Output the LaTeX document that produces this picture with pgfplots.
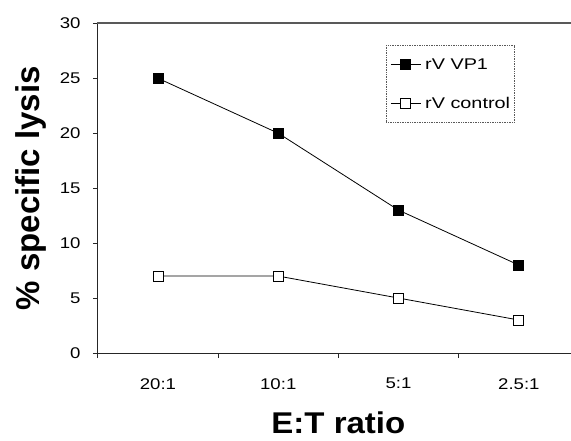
\documentclass[border=0pt]{standalone}
\usepackage{fontspec}
\setmainfont{Liberation Sans}
\usepackage{pgfplots}
\pgfplotsset{compat=1.18}

\begin{document}
\begin{tikzpicture}[x=1pt,y=1pt]
\path[use as bounding box] (0,0) rectangle (571,440);
\begin{axis}[
    at={(97.8pt,87pt)}, anchor=south west,
    scale only axis, width=481.2pt, height=329.7pt,
    xmin=-0.5, xmax=3.5, ymin=0, ymax=30,
    ytick={0,5,...,30},
    xtick={-0.5,0.5,1.5,2.5,3.5}, xticklabels={},
    extra x ticks={0,1,2,3},
    extra x tick labels={20:1,10:1,5:1,2.5:1},
    extra x tick style={major tick length=0pt},
    tick align=outside, tick pos=left,
    major tick length=5pt,
    axis line style={black!85, line width=1pt},
    tick style={black!85, line width=0.8pt},
    /pgf/number format/assume math mode=true,
    ticklabel style={font=\fontsize{15.5}{18}\selectfont, xscale=1.2},
    yticklabel style={inner sep=0pt, xshift=-10pt},
    xticklabel style={inner sep=0pt, yshift=-25pt},
    xlabel={E:T ratio},
    ylabel={\% specific lysis},
    every axis x label/.style={at={(axis description cs:0.5,-0.2125)}, anchor=center, inner sep=0pt,
        font=\fontsize{30}{36}\selectfont\bfseries, xscale=1.1},
    every axis y label/.style={at={(axis description cs:-0.1388,0.5)}, anchor=center, inner sep=0pt,
        rotate=90, font=\fontsize{33}{38}\selectfont\bfseries},
    legend style={at={(axis description cs:0.599,0.933)}, anchor=north west,
        draw=black!65, densely dotted, line width=0.7pt,
        font=\fontsize{15.5}{18}\selectfont,
        row sep=26pt, column sep=4pt,
        inner xsep=4pt, inner ysep=13pt,
        nodes={solid, inner sep=0pt}},
    legend cell align=left,
    legend image code/.code={\draw[solid, mark repeat=2, mark phase=2, #1]
        plot coordinates {(0pt,0pt) (15pt,0pt) (30pt,0pt)};},
]
\addplot[black, line width=0.8pt, mark=square*, mark size=5pt,
    mark options={solid, fill=black}]
    coordinates {(0,25) (1,20) (2,13) (3,8)};
\addlegendentry{\scalebox{1.28}[1]{rV VP1}}
\addplot[black, line width=0.8pt, mark=square*, mark size=5pt,
    mark options={solid, fill=white}]
    coordinates {(0,7) (1,7) (2,5) (3,3)};
\addlegendentry{\scalebox{1.28}[1]{rV control}}
\end{axis}
% top edge of the frame, heavier so that it survives the downscaled image
\draw[black!65, line width=2pt] (96.8,416.7) -- (571,416.7);
\end{tikzpicture}
\end{document}
